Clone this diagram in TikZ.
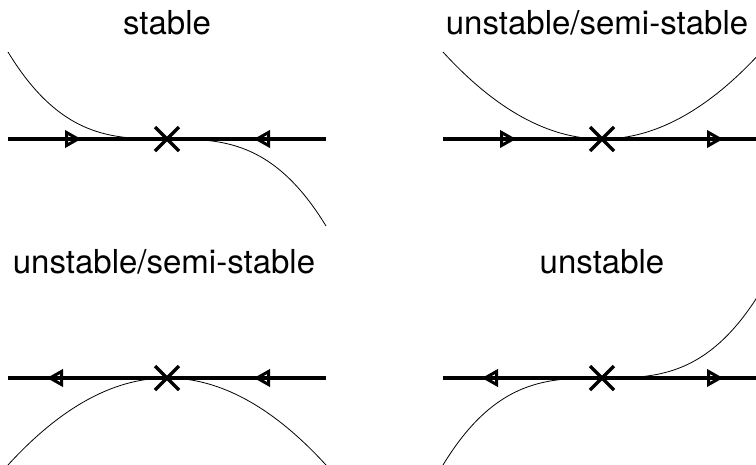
\documentclass[tikz,border=0pt]{standalone}
\usepackage{fontspec}
\setmainfont{TeX Gyre Heros}
\begin{document}
\begin{tikzpicture}[x=1pt,y=-1pt,
  axis/.style={line width=3.4pt},
  flow/.style={line width=0.8pt},
  lbl/.style={font=\fontsize{33}{38}\selectfont, anchor=base, inner sep=0pt},
  tri/.pic={\draw[line width=3pt, line join=miter] (-11.5,-6.5) -- (0,0) -- (-11.5,6.5) -- cycle;},
  fixpt/.pic={\draw[line width=3.4pt] (-12,-12) -- (12,12) (-12,12) -- (12,-12);}
]
\useasboundingbox (0,0) rectangle (756,464);
\clip (0,0) rectangle (756,464);

% labels
\node[lbl] (t1) at (167,34) {stable};
\node[lbl] (t2) at (597,34) {unstable/semi-stable};
\node[lbl] (t3) at (164,273) {unstable/semi-stable};
\node[lbl] (t4) at (602,273) {unstable};

% panel 1: stable
\draw[axis] (8,139) -- (326,139);
\draw[flow] plot[domain=-159:159, samples=120] ({167+\x},{139+87*(\x/159)*(\x/159)*(\x/159)});
\pic at (167,139) {fixpt};
\pic at (78,139) {tri};
\pic[xscale=-1] at (257,139) {tri};

% panel 2: unstable/semi-stable (up parabola)
\draw[axis] (443,139) -- (760,139);
\draw[flow] plot[domain=-159:159, samples=120] ({602+\x},{139-87*(\x/159)*(\x/159)});
\pic at (602,139) {fixpt};
\pic at (513,139) {tri};
\pic at (720,139) {tri};

% panel 3: unstable/semi-stable (down parabola)
\draw[axis] (8,378) -- (326,378);
\draw[flow] plot[domain=-159:159, samples=120] ({167+\x},{378+87*(\x/159)*(\x/159)});
\pic at (167,378) {fixpt};
\pic[xscale=-1] at (50,378) {tri};
\pic[xscale=-1] at (257,378) {tri};

% panel 4: unstable
\draw[axis] (443,378) -- (760,378);
\draw[flow] plot[domain=-159:159, samples=120] ({602+\x},{378-87*(\x/159)*(\x/159)*(\x/159)});
\pic at (602,378) {fixpt};
\pic[xscale=-1] at (485,378) {tri};
\pic at (720,378) {tri};
\end{tikzpicture}
\end{document}
